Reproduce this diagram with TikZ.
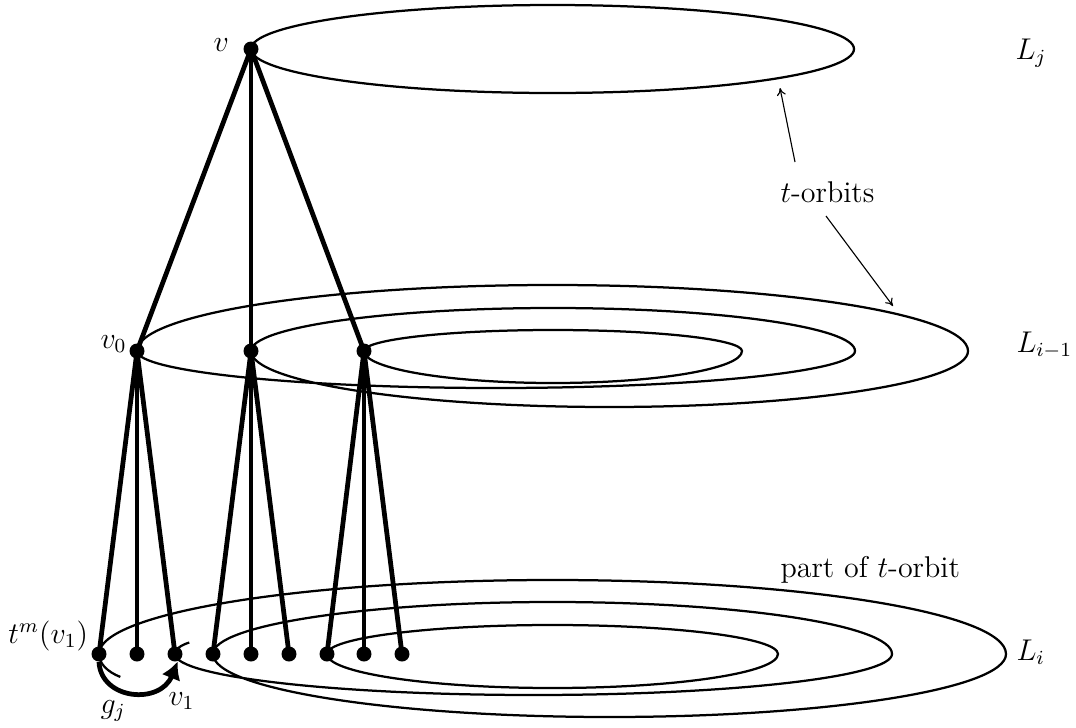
\documentclass[tikz,border=0pt]{standalone}
\usetikzlibrary{arrows.meta}
\begin{document}
\begin{tikzpicture}[x=0.4pt,y=-0.4pt,
  dot/.style={circle,fill=black,inner sep=0pt,minimum size=6pt},
  tree/.style={line width=1.9pt},
  orbit/.style={line width=0.9pt},
  thinarr/.style={line width=0.45pt,-{To[length=3pt,width=3.6pt]}},
  garrow/.style={line width=1.9pt,-{Latex[length=7pt,width=8pt]}},
  lab/.style={inner sep=0pt,anchor=base west,font=\large}]
\useasboundingbox (0,0) rectangle (1076,728);

% vertices
\node[dot] (v) at (251,49) {};
\node[dot] (a0) at (137,351) {};
\node[dot] (a1) at (251,351) {};
\node[dot] (a2) at (364,351) {};
\foreach \i/\x in {1/99,2/137,3/175,4/213,5/251,6/289,7/327,8/364,9/402}
  \node[dot] (b\i) at (\x,654) {};

% top orbit
\draw[orbit] (v.center)
  arc[start angle=180,end angle=0,x radius=120.6pt,y radius=17.6pt]
  arc[start angle=0,end angle=-180,x radius=120.6pt,y radius=17.6pt];

% middle orbits
\draw[orbit] (a0.center)
  arc[start angle=180,end angle=0,x radius=166.2pt,y radius=26.4pt]
  arc[start angle=0,end angle=-180,x radius=143.4pt,y radius=22.4pt]
  arc[start angle=180,end angle=0,x radius=120.8pt,y radius=17.2pt]
  arc[start angle=0,end angle=-180,x radius=143.6pt,y radius=14.8pt];
\draw[orbit] (a2.center)
  arc[start angle=180,end angle=0,x radius=75.6pt,y radius=8.4pt]
  arc[start angle=0,end angle=-180,x radius=75.6pt,y radius=12.8pt];

% bottom orbits
\draw[orbit] (b1.center)
  arc[start angle=180,end angle=0,x radius=181.4pt,y radius=29.6pt]
  arc[start angle=0,end angle=-180,x radius=158.6pt,y radius=25.2pt]
  arc[start angle=180,end angle=0,x radius=135.8pt,y radius=20.8pt]
  arc[start angle=0,end angle=-180,x radius=143.4pt,y radius=16.4pt];
\draw[orbit] (b7.center)
  arc[start angle=180,end angle=0,x radius=90.2pt,y radius=11.6pt]
  arc[start angle=0,end angle=-180,x radius=90.2pt,y radius=13.6pt];
\draw[orbit] (b1.center) arc[start angle=180,end angle=235,x radius=20pt,y radius=11.2pt];
\draw[orbit] (b3.center) arc[start angle=180,end angle=130,x radius=16pt,y radius=6pt];

% tree edges
\foreach \t in {a0,a1,a2}
  \draw[tree] (v.center) -- (\t.center);
\foreach \s/\t in {a0/b1,a0/b2,a0/b3,a1/b4,a1/b5,a1/b6,a2/b7,a2/b8,a2/b9}
  \draw[tree] (\s.center) -- (\t.center);

% g_j arrow
\draw[garrow] (b1.south) .. controls (101,700) and (160,705) .. (b3.-70);

% labels
\node[lab] (lv) at (213,51) {$v$};
\node[lab] (lLj) at (1015,59) {$L_j$};
\node[lab] (lLi1) at (1016,352) {$L_{i-1}$};
\node[lab] (lLi) at (1016,660) {$L_i$};
\node[lab] (lv0) at (100,348) {$v_0$};
\node[lab] (ltm) at (8,643) {$t^m(v_1)$};
\node[lab] (lg) at (100,713) {$g_j$};
\node[lab] (lv1) at (168,705) {$v_1$};
\node[lab] (lto) at (780,202) {$t$-orbits};
\node[lab] (lpart) at (780,577) {part of $t$-orbit};

% t-orbits pointers
\coordinate (uT) at (795,162);
\coordinate (uH) at (780,88);
\coordinate (dT) at (826,216);
\coordinate (dH) at (893,306);
\draw[thinarr] (uT) -- (uH);
\draw[thinarr] (dT) -- (dH);
\end{tikzpicture}
\end{document}
